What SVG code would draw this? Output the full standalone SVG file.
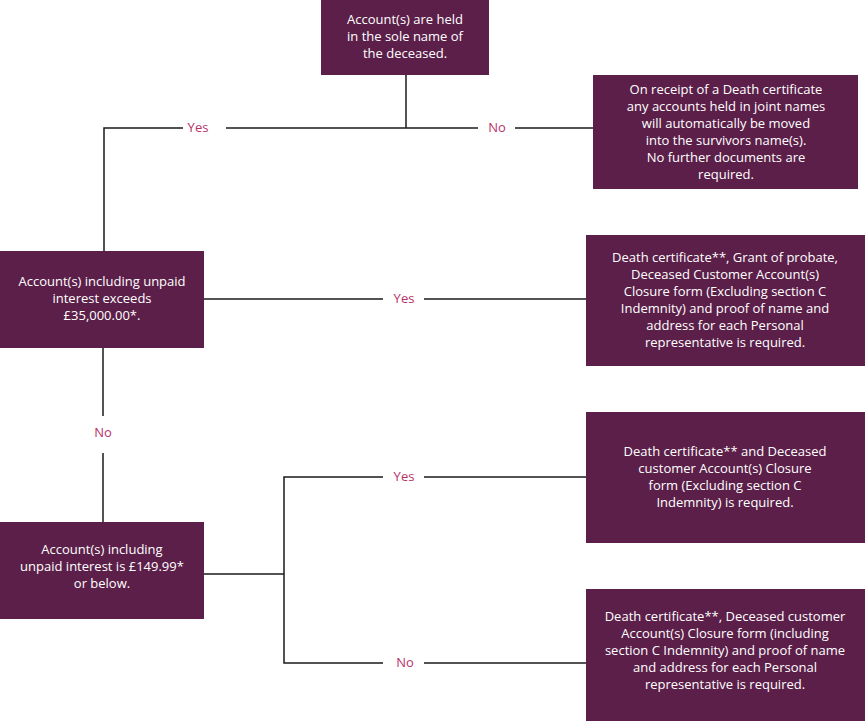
<svg xmlns="http://www.w3.org/2000/svg" width="865" height="721" viewBox="0 0 865 721">
<style>
.box{fill:#5b1f49}
.t{font-family:"Open Sans","Noto Sans",sans-serif;font-size:13px;fill:#ffffff;text-anchor:middle}
.lbl{font-family:"Open Sans","Noto Sans",sans-serif;font-size:13px;fill:#b8336a;text-anchor:middle}
.ln{stroke:#1a1a1a;stroke-width:1.5;fill:none}
</style>
<rect width="865" height="721" fill="#ffffff"/>
<g id="connectors">
<path class="ln" d="M406,75 V128"/>
<path class="ln" d="M104,251 V128 H183"/>
<path class="ln" d="M226,128 H478"/>
<path class="ln" d="M515,128 H593"/>
<path class="ln" d="M204,299 H383"/>
<path class="ln" d="M424,299 H586"/>
<path class="ln" d="M103,348 V416"/>
<path class="ln" d="M103,453 V522"/>
<path class="ln" d="M204,574 H284"/>
<path class="ln" d="M383,477 H284 V663 H383"/>
<path class="ln" d="M424,477 H586"/>
<path class="ln" d="M424,663 H586"/>
<text class="lbl" x="198" y="132">Yes</text>
<text class="lbl" x="497" y="132">No</text>
<text class="lbl" x="404" y="303">Yes</text>
<text class="lbl" x="103" y="437">No</text>
<text class="lbl" x="404" y="481">Yes</text>
<text class="lbl" x="405" y="667">No</text>
</g>
<g id="n-sole">
<rect class="box" x="321" y="0" width="168" height="75"/>
<text class="t" x="405" y="24">Account(s) are held</text>
<text class="t" x="405" y="41">in the sole name of</text>
<text class="t" x="405" y="58">the deceased.</text>
</g>
<g id="n-joint">
<rect class="box" x="593" y="75" width="265" height="114"/>
<text class="t" x="726" y="94">On receipt of a Death certificate</text>
<text class="t" x="726" y="111">any accounts held in joint names</text>
<text class="t" x="726" y="128">will automatically be moved</text>
<text class="t" x="726" y="145">into the survivors name(s).</text>
<text class="t" x="726" y="162">No further documents are</text>
<text class="t" x="726" y="179">required.</text>
</g>
<g id="n-exceeds">
<rect class="box" x="0" y="251" width="204" height="97"/>
<text class="t" x="102" y="286">Account(s) including unpaid</text>
<text class="t" x="102" y="303">interest exceeds</text>
<text class="t" x="102" y="320">£35,000.00*.</text>
</g>
<g id="n-probate">
<rect class="box" x="586" y="235" width="279" height="131"/>
<text class="t" x="725" y="262">Death certificate**, Grant of probate,</text>
<text class="t" x="725" y="279">Deceased Customer Account(s)</text>
<text class="t" x="725" y="296">Closure form (Excluding section C</text>
<text class="t" x="725" y="313">Indemnity) and proof of name and</text>
<text class="t" x="725" y="330">address for each Personal</text>
<text class="t" x="725" y="347">representative is required.</text>
</g>
<g id="n-below">
<rect class="box" x="0" y="522" width="204" height="97"/>
<text class="t" x="102" y="554">Account(s) including</text>
<text class="t" x="102" y="571">unpaid interest is £149.99*</text>
<text class="t" x="102" y="588">or below.</text>
</g>
<g id="n-yes-small">
<rect class="box" x="586" y="412" width="279" height="131"/>
<text class="t" x="725" y="456">Death certificate** and Deceased</text>
<text class="t" x="725" y="473">customer Account(s) Closure</text>
<text class="t" x="725" y="490">form (Excluding section C</text>
<text class="t" x="725" y="507">Indemnity) is required.</text>
</g>
<g id="n-no-small">
<rect class="box" x="586" y="589" width="279" height="132"/>
<text class="t" x="725" y="621">Death certificate**, Deceased customer</text>
<text class="t" x="725" y="638">Account(s) Closure form (including</text>
<text class="t" x="725" y="655">section C Indemnity) and proof of name</text>
<text class="t" x="725" y="672">and address for each Personal</text>
<text class="t" x="725" y="689">representative is required.</text>
</g>
</svg>
